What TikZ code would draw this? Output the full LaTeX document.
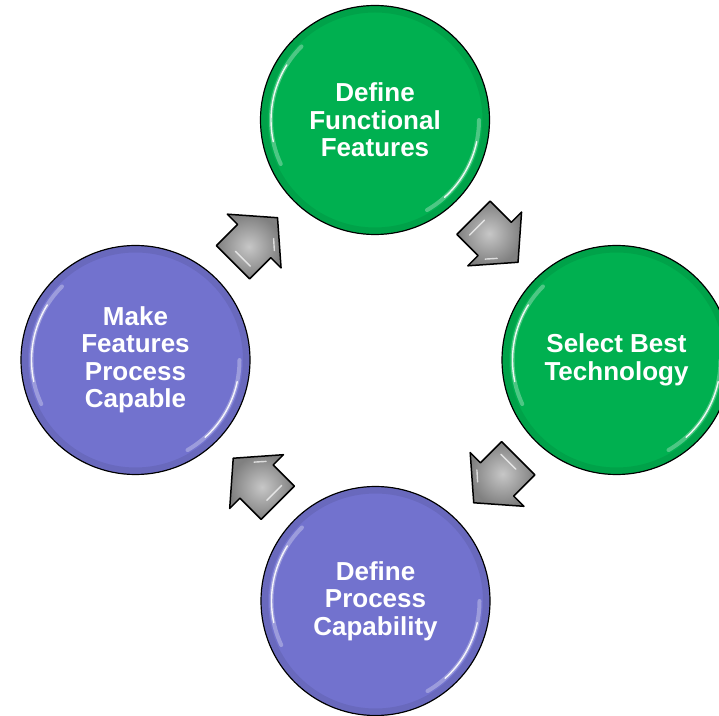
\documentclass[tikz,border=0pt]{standalone}
\usepackage{fontspec}
\setmainfont{Liberation Sans}
\usetikzlibrary{calc}
\definecolor{stepgreen}{RGB}{0,176,80}
\definecolor{steppurple}{RGB}{114,114,206}
\tikzset{
  stage/.style={circle, draw=black, line width=1.2pt, minimum size=229pt, inner sep=0pt,
    text=white, font=\fontsize{26}{27.5}\selectfont\bfseries, align=center},
  rim/.style={black, line width=6pt, opacity=0.08},
  gloss/.style={white, line width=4pt, opacity=0.3, line cap=round},
  glint/.style={white, line width=1.4pt, opacity=0.9, line cap=round},
  cyclearrow/.pic={
    \shadedraw[inner color=black!22, outer color=black!50, draw=black, line width=1.5pt, line join=round]
      (-31.5,-23.5) -- (-1.5,-23.5) -- (-1.5,-38) -- (31.5,0) -- (-1.5,38) -- (-1.5,23.5) -- (-31.5,23.5) -- cycle;
    \draw[glint, opacity=0.7] (-22,-15) -- (-22,6);
    \draw[glint, opacity=0.7] (6,-21) -- (14,-12);
  }
}
\begin{document}
\begin{tikzpicture}[x=1pt,y=1pt]
\useasboundingbox (0,0) rectangle (719,715);
% stages
\node[stage, fill=stepgreen] (features) at (375,595) {Define\\Functional\\Features};
\node[stage, fill=stepgreen] (technology) at (616.5,355) {Select Best\\Technology};
\node[stage, fill=steppurple] (capability) at (375.5,114) {Define\\Process\\Capability};
\node[stage, fill=steppurple] (capable) at (135.5,355) {Make\\Features\\Process\\Capable};
% glossy rims
\foreach \n in {features,technology,capability,capable} {
  \draw[rim] (\n.center) circle (110.5);
  \draw[gloss] (\n.center) ++(135:104) arc (135:205:104);
  \draw[glint] (\n.center) ++(148:104) arc (148:192:104);
  \draw[gloss] (\n.center) ++(-60:104) arc (-60:0:104);
  \draw[glint] (\n.center) ++(-48:104) arc (-48:-12:104);
}
% arrows
\pic[rotate=45] at ($(capable)!0.5!(features)$) {cyclearrow};
\pic[rotate=-45] at ($(features)!0.5!(technology)$) {cyclearrow};
\pic[rotate=-135] at ($(technology)!0.5!(capability)$) {cyclearrow};
\pic[rotate=135] at ($(capability)!0.5!(capable)$) {cyclearrow};
\end{tikzpicture}
\end{document}
